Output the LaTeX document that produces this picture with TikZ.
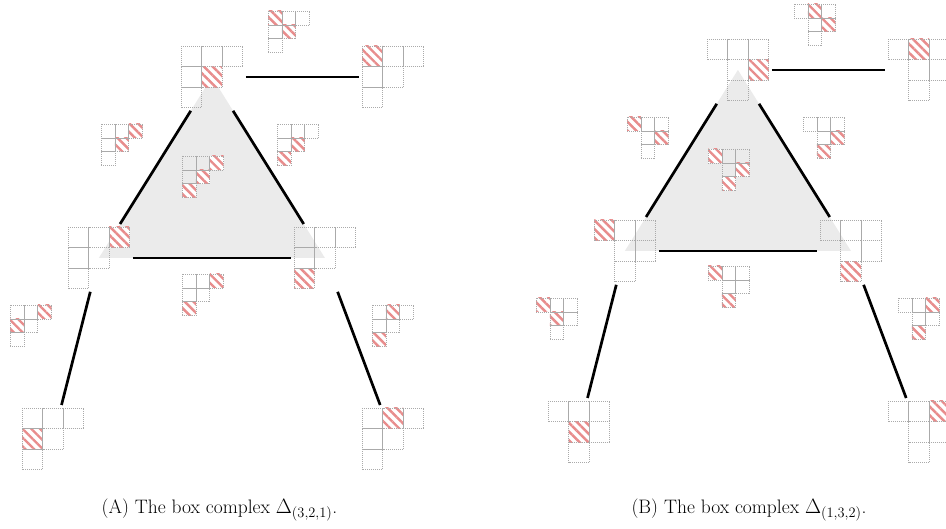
\documentclass[tikz,border=0pt]{standalone}
\usetikzlibrary{patterns.meta,backgrounds}
\definecolor{hatchred}{RGB}{232,140,140}
\definecolor{cellgray}{RGB}{170,170,170}
\definecolor{trigray}{RGB}{235,235,235}
\tikzset{
  ydnode/.style={rectangle, inner sep=0pt, outer sep=3pt, draw=none},
  cellline/.style={draw=cellgray, line width=0.7pt, dash pattern=on 0.7pt off 1.3pt},
  hatchcell/.style={pattern={Lines[angle=-45,distance=6.2pt,line width=2.4pt]}, pattern color=hatchred},
  cedge/.style={line width=2.7pt, black},
  tri/.style={fill=trigray},
  captxt/.style={font=\fontsize{19.5}{23}\selectfont, inner sep=0pt, anchor=base}
}
% #1 name, #2 x, #3 y (top-left), #4 cell size, #5 cells, #6 red cells
\newcommand{\ydiag}[6]{%
  \pgfmathsetmacro\ydside{3*#4}%
  \pgfmathsetmacro\ydcx{#2+1.5*#4}%
  \pgfmathsetmacro\ydcy{#3+1.5*#4}%
  \node[ydnode, minimum size=\ydside pt] (#1) at (\ydcx,\ydcy) {};
  \edef\ydreds{#6}%
  \edef\ydcells{#5}%
  \foreach \r/\c in \ydreds {
    \fill[white] ({#2+(\c-1)*#4},{#3+(\r-1)*#4}) rectangle ++(#4,#4);
    \fill[hatchcell] ({#2+(\c-1)*#4},{#3+(\r-1)*#4}) rectangle ++(#4,#4);
  }
  \foreach \r/\c in \ydcells {
    \draw[cellline] ({#2+(\c-1)*#4},{#3+(\r-1)*#4}) rectangle ++(#4,#4);
  }
}
\newcommand{\shA}{1/1,1/2,1/3,2/1,2/2,3/1}
\newcommand{\shB}{1/1,1/2,1/3,2/2,2/3,3/2}
\begin{document}
\begin{tikzpicture}[x=1pt,y=-1pt]
\useasboundingbox (0,0) rectangle (946,529);
\def\bs{20.6}
\def\ss{13.9}
% ---------- Panel A ----------
\ydiag{ta}{181}{46}{\bs}{\shA}{2/2}
\ydiag{tra}{362}{46}{\bs}{\shA}{1/1}
\ydiag{la}{68}{227}{\bs}{\shA}{1/3}
\ydiag{ra}{294}{227}{\bs}{\shA}{3/1}
\ydiag{bla}{22}{408}{\bs}{\shA}{2/1}
\ydiag{bra}{362}{408}{\bs}{\shA}{1/2}
\ydiag{sta}{268}{11}{\ss}{\shA}{1/1,2/2}
\ydiag{sla}{101}{124}{\ss}{\shA}{1/3,2/2}
\ydiag{sca}{182}{156}{\ss}{\shA}{1/3,2/2,3/1}
\ydiag{sra}{277}{124}{\ss}{\shA}{2/2,3/1}
\ydiag{sba}{182}{274}{\ss}{\shA}{1/3,3/1}
\ydiag{sbla}{10}{305}{\ss}{\shA}{1/3,2/1}
\ydiag{sbra}{372}{305}{\ss}{\shA}{1/2,3/1}
\begin{pgfonlayer}{background}
  \fill[tri] (ta.center) -- (la.center) -- (ra.center) -- cycle;
\end{pgfonlayer}
\draw[cedge] (ta) -- (la);
\draw[cedge] (ta) -- (ra);
\draw[cedge] (la) -- (ra);
\draw[cedge] (ta) -- (tra);
\draw[cedge] (la) -- (bla);
\draw[cedge] (ra) -- (bra);
% ---------- Panel B ----------
\ydiag{tb}{707}{39}{\bs}{\shB}{2/3}
\ydiag{trb}{888}{39}{\bs}{\shB}{1/2}
\ydiag{lb}{594}{220}{\bs}{\shB}{1/1}
\ydiag{rb}{820}{220}{\bs}{\shB}{3/2}
\ydiag{blb}{548}{401}{\bs}{\shB}{2/2}
\ydiag{brb}{888}{401}{\bs}{\shB}{1/3}
\ydiag{stb}{794}{4}{\ss}{\shB}{1/2,2/3}
\ydiag{slb}{627}{117}{\ss}{\shB}{1/1,2/3}
\ydiag{scb}{708}{149}{\ss}{\shB}{1/1,2/3,3/2}
\ydiag{srb}{803}{117}{\ss}{\shB}{2/3,3/2}
\ydiag{sbb}{708}{266}{\ss}{\shB}{1/1,3/2}
\ydiag{sblb}{536}{298}{\ss}{\shB}{1/1,2/2}
\ydiag{sbrb}{898}{298}{\ss}{\shB}{1/3,3/2}
\begin{pgfonlayer}{background}
  \fill[tri] (tb.center) -- (lb.center) -- (rb.center) -- cycle;
\end{pgfonlayer}
\draw[cedge] (tb) -- (lb);
\draw[cedge] (tb) -- (rb);
\draw[cedge] (lb) -- (rb);
\draw[cedge] (tb) -- (trb);
\draw[cedge] (lb) -- (blb);
\draw[cedge] (rb) -- (brb);
% ---------- Captions ----------
\node[captxt] (capa) at (219.5,514) {(A) The box complex $\Delta_{(3,2,1)}$.};
\node[captxt] (capb) at (749,514) {(B) The box complex $\Delta_{(1,3,2)}$.};
\end{tikzpicture}
\end{document}
